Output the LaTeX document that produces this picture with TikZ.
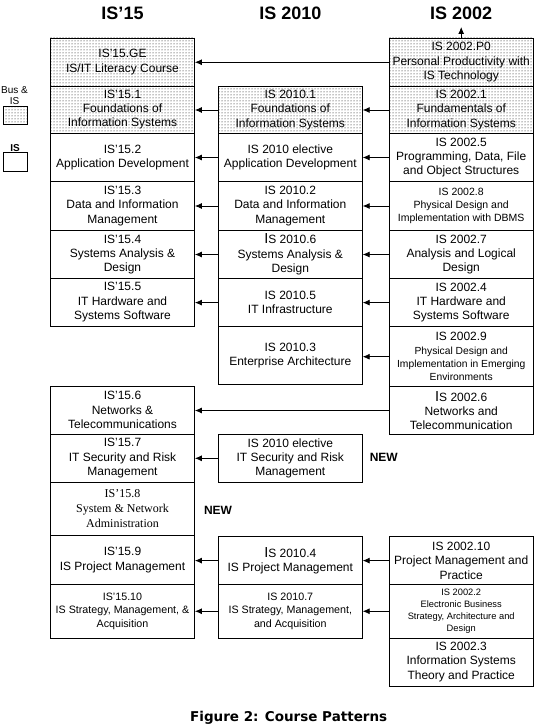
\documentclass[tikz,border=0pt]{standalone}
\usepackage{fontspec}
\setmainfont{Liberation Sans}
\newfontfamily\timesfont{Liberation Serif}
\newfontfamily\captionfont{DejaVu Sans}
\usetikzlibrary{patterns,arrows.meta}

\tikzset{
  course/.style={draw, line width=0.8pt, minimum width=144pt, inner sep=1pt,
    align=center, font=\fontsize{12}{14.3}\selectfont},
  buscourse/.style={course, pattern=dots},
  smallcourse/.style={course, font=\fontsize{10.5}{13}\selectfont},
  heading/.style={font=\bfseries\fontsize{18}{18}\selectfont},
  newmark/.style={font=\bfseries\fontsize{12}{12}\selectfont},
}
\newcommand{\bigI}{{\fontsize{14.5}{12}\selectfont I}}

\begin{document}
\begin{tikzpicture}[x=1pt,y=-1pt,>={Latex[length=7pt,width=6pt]},line width=0.8pt]
   \useasboundingbox (0,0) rectangle (534,725);
   % headings
   \node[heading] (h15) at (122.5,13) {IS’15};
   \node[heading] (h10) at (290.3,13) {IS 2010};
   \node[heading] (h02) at (461.2,13) {IS 2002};
   % legend
   \node[font=\fontsize{10}{11}\selectfont, align=center] (bustext) at (14.5,95.5) {Bus \&\\IS};
   \node[draw, pattern=dots, minimum width=24pt, minimum height=17.6pt, inner sep=0pt] (buskey) at (15,115.5) {};
   \node[font=\bfseries\fontsize{10}{10}\selectfont] (istext) at (15,147.7) {IS};
   \node[draw, minimum width=24pt, minimum height=18.3pt, inner sep=0pt] (iskey) at (15,161.8) {};
   % IS'15 column
   \node[buscourse, minimum height=48pt] (ge) at (122.5,62) {IS’15.GE\\IS/IT Literacy Course};
   \node[buscourse, minimum height=47.5pt] (l1) at (122.5,109.75) {IS’15.1\\Foundations of\\Information Systems};
   \node[course, minimum height=48pt] (l2) at (122.5,157.5) {IS’15.2\\Application Development};
   \node[course, minimum height=49pt] (l3) at (122.5,206) {IS’15.3\\Data and Information\\Management};
   \node[course, minimum height=48pt] (l4) at (122.5,254.5) {IS’15.4\\Systems Analysis \&\\Design};
   \node[course, minimum height=47.5pt] (l5) at (122.5,302.25) {IS’15.5\\IT Hardware and\\Systems Software};
   \node[course, minimum height=48.3pt] (l6) at (122.5,410.15) {IS’15.6\\Networks \&\\Telecommunications};
   \node[course, minimum height=48pt] (l7) at (122.5,458.3) {IS’15.7\\IT Security and Risk\\Management};
   \node[course, minimum height=53.4pt, font=\timesfont\fontsize{12}{15}\selectfont] (l8) at (122.5,509) {IS’15.8\\System \& Network\\Administration};
   \node[course, minimum height=48.8pt] (l9) at (122.5,560.1) {IS’15.9\\IS Project Management};
   \node[course, minimum height=53.5pt, font=\fontsize{10.7}{13.5}\selectfont] (l10) at (122.5,611.25) {IS’15.10\\IS Strategy, Management, \&\\Acquisition};
   % IS 2010 column
   \node[buscourse, minimum height=47pt] (m1) at (290.3,110) {IS 2010.1\\Foundations of\\Information Systems};
   \node[course, minimum height=48pt] (mapp) at (290.3,157.5) {IS 2010 elective\\Application Development};
   \node[course, minimum height=49pt] (m2) at (290.3,206) {IS 2010.2\\Data and Information\\Management};
   \node[course, minimum height=48pt] (m6) at (290.3,254.5) {\bigI S 2010.6\\Systems Analysis \&\\Design};
   \node[course, minimum height=48.2pt] (m5) at (290.3,302.6) {IS 2010.5\\IT Infrastructure};
   \node[course, minimum height=57.8pt] (m3) at (290.3,355.6) {IS 2010.3\\Enterprise Architecture};
   \node[course, minimum height=48pt] (msec) at (290.3,458.3) {IS 2010 elective\\IT Security and Risk\\Management};
   \node[course, minimum height=47.8pt] (m4) at (290.3,560.6) {\bigI S 2010.4\\IS Project Management};
   \node[course, minimum height=53.5pt, font=\fontsize{10.7}{13.5}\selectfont] (m7) at (290.3,611.25) {IS 2010.7\\IS Strategy, Management,\\and Acquisition};
   % IS 2002 column
   \node[buscourse, minimum height=48.5pt] (p0) at (461.2,62.25) {IS 2002.P0\\Personal Productivity with\\IS Technology};
   \node[buscourse, minimum height=47pt] (r1) at (461.2,110) {IS 2002.1\\Fundamentals of\\Information Systems};
   \node[course, minimum height=48pt] (r5) at (461.2,157.5) {IS 2002.5\\Programming, Data, File\\and Object Structures};
   \node[smallcourse, minimum height=49pt] (r8) at (461.2,206) {IS 2002.8\\Physical Design and\\Implementation with DBMS};
   \node[course, minimum height=48pt] (r7) at (461.2,254.5) {IS 2002.7\\Analysis and Logical\\Design};
   \node[course, minimum height=48.2pt] (r4) at (461.2,302.6) {IS 2002.4\\IT Hardware and\\Systems Software};
   \node[smallcourse, minimum height=60pt, font=\fontsize{10.3}{13.3}\selectfont] (r9) at (461.2,356.7) {{\fontsize{12}{13.3}\selectfont IS 2002.9}\\Physical Design and\\Implementation in Emerging\\Environments};
   \node[course, minimum height=47.6pt] (r6) at (461.2,410.5) {\bigI S 2002.6\\Networks and\\Telecommunication};
   \node[course, minimum height=47.8pt] (r10) at (461.2,560.6) {IS 2002.10\\Project Management and\\Practice};
   \node[course, minimum height=53.5pt, font=\fontsize{9.3}{11.7}\selectfont] (r2) at (461.2,611.25) {IS 2002.2\\Electronic Business\\Strategy, Architecture and\\Design};
   \node[course, minimum height=48pt] (r3) at (461.2,662) {IS 2002.3\\Information Systems\\Theory and Practice};
   % new courses
   \node[newmark] (new1) at (383.8,457.7) {NEW};
   \node[newmark] (new2) at (218,510) {NEW};
   % arrows
   \coordinate (up) at (461.2,27);
   \draw[->] (p0.north) -- (up);
   \draw[->] (p0.west) -- (p0.west -| ge.east);
   \draw[->] (r1.west) -- (r1.west -| m1.east);
   \draw[->] (m1.west) -- (m1.west -| l1.east);
   \draw[->] (r5.west) -- (r5.west -| mapp.east);
   \draw[->] (mapp.west) -- (mapp.west -| l2.east);
   \draw[->] (r8.west) -- (r8.west -| m2.east);
   \draw[->] (m2.west) -- (m2.west -| l3.east);
   \draw[->] (r7.west) -- (r7.west -| m6.east);
   \draw[->] (m6.west) -- (m6.west -| l4.east);
   \draw[->] (r4.west) -- (r4.west -| m5.east);
   \draw[->] (m5.west) -- (m5.west -| l5.east);
   \draw[->] (r9.west) -- (r9.west -| m3.east);
   \draw[->] (r6.west) -- (r6.west -| l6.east);
   \draw[->] (msec.west) -- (msec.west -| l7.east);
   \draw[->] (r10.west) -- (r10.west -| m4.east);
   \draw[->] (m4.west) -- (m4.west -| l9.east);
   \draw[->] (r2.west) -- (r2.west -| m7.east);
   \draw[->] (m7.west) -- (m7.west -| l10.east);
   % caption
   \node[font=\captionfont\bfseries\fontsize{13.5}{13.5}\selectfont] (caption) at (288.7,718) {Figure 2: Course Patterns};
\end{tikzpicture}
\end{document}
